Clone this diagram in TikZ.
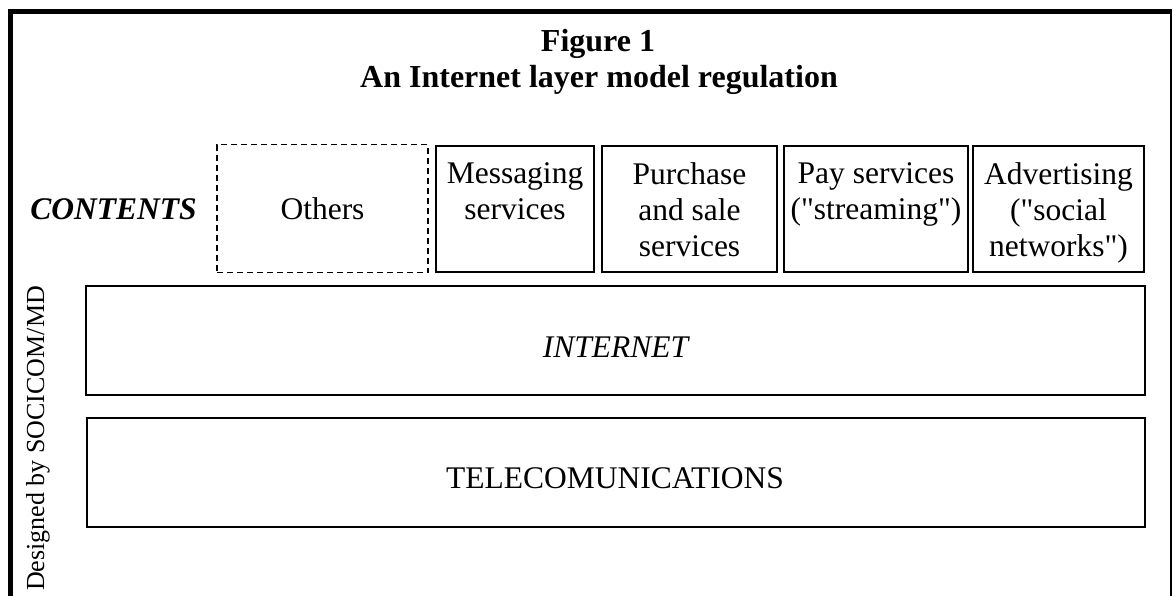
\documentclass[tikz,border=0pt]{standalone}
\usepackage{fontspec}
\setmainfont{Liberation Serif}[Ligatures=TeXOff]
\begin{document}
\begin{tikzpicture}[x=1pt,y=-1pt,
  box/.style={draw, line width=1.6pt, inner sep=0pt, rectangle},
  dbox/.style={box, dash pattern=on 6pt off 4pt},
  txt/.style={inner sep=0pt, font=\fontsize{31.5}{36}\selectfont, align=center},
  ttl/.style={inner sep=0pt, font=\fontsize{32}{36}\selectfont\bfseries}]
\useasboundingbox (0,0) rectangle (1175,595);
% frame
\coordinate (ftl) at (8,11.5);
\coordinate (ftr) at (1172,11.5);
\coordinate (fl1) at (10.5,9);
\coordinate (fl2) at (10.5,600);
\coordinate (fr1) at (1171,9);
\coordinate (fr2) at (1171,600);
\draw[line width=5pt] (ftl) -- (ftr);
\draw[line width=5pt] (fl1) -- (fl2);
\draw[line width=2pt] (fr1) -- (fr2);
% title
\node[ttl, anchor=base] (t1) at (598,51) {Figure 1};
\node[ttl, anchor=base] (t2) at (599,87) {An Internet layer model regulation};
% contents label
\node[txt, anchor=base, font=\fontsize{31.5}{36}\selectfont\bfseries\itshape] (cont) at (113.5,219) {CONTENTS};
% content boxes
\node[dbox, minimum width=211pt, minimum height=128pt] (oth) at (322.5,208.5) {};
\node[txt, anchor=base] (otht) at (322.5,219) {Others};
\node[box, minimum width=158pt, minimum height=126pt] (msg) at (515,209) {};
\node[txt, anchor=north] (msgt) at (515,162) {Messaging\\services};
\node[box, minimum width=175pt, minimum height=126pt] (pur) at (689.5,209) {};
\node[txt, anchor=north] (purt) at (689.5,162) {Purchase\\and sale\\services};
\node[box, minimum width=184pt, minimum height=126pt] (pay) at (876,209) {};
\node[txt, anchor=north] (payt) at (876,162) {Pay services\\("streaming")};
\node[box, minimum width=171pt, minimum height=126pt] (adv) at (1058.5,209) {};
\node[txt, anchor=north] (advt) at (1058.5,162) {Advertising\\("social\\networks")};
% layers
\node[box, minimum width=1059pt, minimum height=109pt] (inet) at (615.5,340.5) {};
\node[txt, anchor=base, font=\fontsize{31.5}{36}\selectfont\itshape] (inett) at (615.5,357.5) {INTERNET};
\node[box, minimum width=1058pt, minimum height=109pt] (tel) at (616,472.5) {};
\node[txt, anchor=base] (telt) at (615,488.5) {TELECOMUNICATIONS};
% credit
\node[inner sep=0pt, font=\fontsize{26}{30}\selectfont, rotate=90, anchor=base west] (cred) at (44,591) {Designed by SOCICOM/MD};
\end{tikzpicture}
\end{document}
